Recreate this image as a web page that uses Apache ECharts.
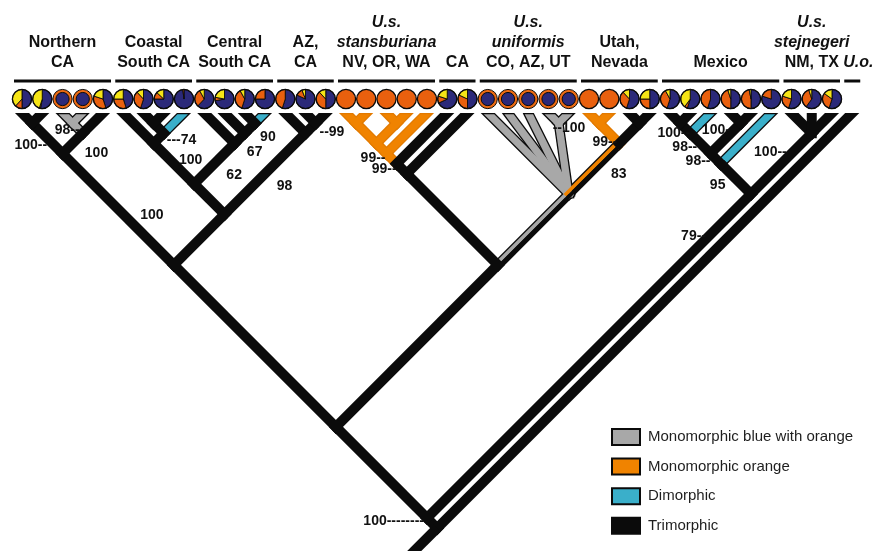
<!DOCTYPE html>
<html>
<head>
<meta charset="utf-8">
<script src="https://cdn.jsdelivr.net/npm/echarts@6/dist/echarts.min.js"></script>
<style>
  html, body { margin: 0; padding: 0; background: #fff; }
  #chart { width: 875px; height: 551px; }
</style>
</head>
<body>
<div id="chart"></div>
<script>
// ---------------------------------------------------------------------------
// Sampled populations, left to right; the array position is the tip number
// used on the x axis. Pie fractions of the three throat morphs.
const pieBlue   = [0.50, 0.53, 1, 1, 0.45, 0.45, 0.55, 0.75, 0.98, 0.62, 0.72, 0.55, 0.75, 0.55, 0.82, 0.50,
                   0, 0, 0, 0, 0, 0.68, 0.50, 1, 1, 1, 1, 1, 0, 0, 0.55, 0.50,
                   0.55, 0.55, 0.55, 0.50, 0.50, 0.80, 0.55, 0.60, 0.55];
const pieOrange = [0.12, 0.02, 0, 0, 0.35, 0.30, 0.33, 0.12, 0.02, 0.30, 0.06, 0.37, 0.25, 0.45, 0.12, 0.38,
                   1, 1, 1, 1, 1, 0.12, 0.32, 0, 0, 0, 0, 0, 1, 1, 0.33, 0.25,
                   0.37, 0.05, 0.45, 0.45, 0.47, 0.20, 0.25, 0.35, 0.30];
const pieYellow = [0.38, 0.45, 0, 0, 0.20, 0.25, 0.12, 0.13, 0, 0.08, 0.22, 0.08, 0, 0, 0.06, 0.12,
                   0, 0, 0, 0, 0, 0.20, 0.18, 0, 0, 0, 0, 0, 0, 0, 0.12, 0.25,
                   0.08, 0.40, 0, 0.05, 0.03, 0, 0.20, 0.05, 0.15];
// Populations fixed for blue throats bordered with orange
const ringed = [2, 3, 23, 24, 25, 26, 27];

// Cladogram in Newick form (tip numbers as above, 41 = U. ornatus outgroup).
// ':code' gives the reconstructed state of the branch below a node:
// g grey, o orange, t teal, k black; two letters = split branch.
const cladeNorthCA   = '((0,1),((2:g,3:g):g,4))';
const cladeCoastal   = '(5,((6,7),8:t))';
const cladeCentral   = '(9,(10,(11,12:t)))';
const cladeAZ        = '(13,(14,15))';
const cladeStansb    = '(((((16:o,17:o):o,(18:o,19:o):o):o,20:o):o,21),22)';
const cladeUniformis = '(23:g,24:g,25:g,(26:g,27:g):g,((28:o,29:o):o,(30,31)):ok)';
const cladeMexico    = '((((32,33),34:t),(35,36)),37:t)';
const cladeNMTX      = '(38,39,40)';
const treeNewick = '((((' + cladeNorthCA + ',((' + cladeCoastal + ',' + cladeCentral + '),' + cladeAZ + ')),(' +
  cladeStansb + ',' + cladeUniformis + ':gk)),(' + cladeMexico + ',' + cladeNMTX + ')),41)';

// Bootstrap support: node named by the tips it spans, and its value
const supportSpan  = ['0-1', '2-3', '0-4', '0-15', '6-8', '5-8', '5-12', '9-12', '11-12', '5-15', '13-15',
                      '16-20', '16-21', '26-27', '28-31', '23-31', '32-33', '32-34', '35-36', '32-36',
                      '32-37', '38-40', '32-40', '0-40'];
const supportValue = [100, 98, 100, 100, 74, 100, 62, 67, 90, 98, 99,
                      99, 99, 100, 99, 83, 100, 98, 100, 98,
                      95, 100, 79, 100];

// Clade labels and the tips they span
const groupFrom  = [0, 5, 9, 13, 16, 21, 23, 28, 32, 38, 41];
const groupTo    = [4, 8, 12, 15, 20, 22, 27, 31, 37, 40, 41];
const groupTaxon = ['', '', '', '', 'U.s.\nstansburiana', '', 'U.s.\nuniformis', '', '', 'U.s.\nstejnegeri', 'U.o.'];
const groupPlace = ['Northern\nCA', 'Coastal\nSouth CA', 'Central\nSouth CA', 'AZ,\nCA', 'NV, OR, WA', 'CA',
                    'CO, AZ, UT', 'Utah,\nNevada', 'Mexico', 'NM, TX', ''];

// Branch states shown in the key
const stateNames = ['Monomorphic blue with orange', 'Monomorphic orange', 'Dimorphic', 'Trimorphic'];
const stateCodes = ['g', 'o', 't', 'k'];

// ---------------------------------------------------------------------------
// Styling
const FONT = "'Liberation Sans', Arial, Helvetica, sans-serif";
const NAVY = '#2b2979', PIE_OR = '#e9600e', YEL = '#f6e516', RING_OR = '#ec6a12';
const INK = '#0b0b0b';
const STATE_COLOR = { g: '#a8a8a8', o: '#f08300', t: '#3aafca', k: INK };
const STATE_EDGE = { g: INK, o: '#e27a00', t: INK };
const LINE_W = 10;      // branch width, px
const EDGE = 1.3;       // outline around coloured branches, px
const PIE_R = 9.6;
const PIE_ROW = -0.69;  // pie row, in tip-spacing units above the tips
const groupTextShift = [0, 0, 0, 0, 0, 0, 0, 0, 0, 0, 6];

// Axis scaling: one tip spacing per x unit, same pixel size for depth units
const SPACING = 20.25, TIP_LEFT = 22, TIP_TOP = 113, WIDTH = 875, HEIGHT = 551;

// Supports: [dx, dy, anchor, dashes] relative to the node (r: text ends there, l: starts, c: centred)
const supportPlacement = {
  '0-1': [15, 22, 'r', 2], '2-3': [7, 7, 'r', 2], '0-4': [34, 0, 'c', 0], '0-15': [-22, -50, 'c', 0],
  '6-8': [3, 7, 'l', 3], '5-8': [37, 17, 'c', 0], '5-12': [40, -9, 'c', 0], '9-12': [20, 9, 'c', 0],
  '11-12': [13, 14, 'c', 0], '5-15': [60, -28, 'c', 0], '13-15': [14, -1, 'l', 2],
  '16-20': [-1, 5, 'r', 2], '16-21': [0, 6, 'r', 2], '26-27': [-6, 5, 'l', 2], '28-31': [-2, -1, 'r', 2],
  '23-31': [50, -20, 'c', 0], '32-33': [10, 10, 'r', 2], '32-34': [7, 14, 'r', 2], '35-36': [-11, 7, 'r', 1],
  '32-36': [0, 8, 'r', 2], '32-37': [-3, 22, 'c', 0], '38-40': [-25, 19, 'r', 2], '32-40': [-45, 42, 'r', 2],
  '0-40': [-3, 3, 'r', 8]
};

// ---------------------------------------------------------------------------
// Tree parsing and slanted-cladogram layout (45 degree branches)
function parseNewick(s) {
  let i = 0;
  function node() {
    let n;
    if (s[i] === '(') {
      i++;
      const kids = [node()];
      while (s[i] === ',') { i++; kids.push(node()); }
      i++;
      n = { kids };
    } else {
      let t = '';
      while (/[0-9]/.test(s[i])) t += s[i++];
      n = { leaf: +t };
    }
    if (s[i] === ':') {
      i++;
      let c = '';
      while (/[a-z]/.test(s[i])) c += s[i++];
      n.state = c;
    }
    return n;
  }
  return node();
}

function layout(n) {
  if (n.leaf != null) { n.x = n.leaf; n.y = 0; n.lo = n.hi = n.leaf; return; }
  n.kids.forEach(layout);
  const a = n.kids[0], b = n.kids[n.kids.length - 1];
  n.x = (a.x - a.y + b.x + b.y) / 2;
  n.y = (b.x + b.y - a.x + a.y) / 2;
  n.lo = a.lo; n.hi = b.hi;
}

const root = parseNewick(treeNewick);
layout(root);
const nodeBySpan = {};
const branches = [];
(function walk(n) {
  nodeBySpan[n.lo + '-' + n.hi] = n;
  if (n.kids) n.kids.forEach(k => { branches.push({ c: k, p: n }); walk(k); });
})(root);
// stem below the root, running off the bottom edge
branches.push({ c: root, p: { x: root.x - 3, y: root.y + 3 }, stem: true });

const branchData = branches.map(b => [b.c.x, b.c.y, b.p.x, b.p.y, b.c.leaf != null && !b.stem ? 1 : 0]);
const branchState = branches.map(b => (b.stem ? 'k' : (b.c.state || 'k')));

// ---------------------------------------------------------------------------
// Drawing helpers
function bandPts(c, p, half, cutY, ext, side) {
  const dx = p[0] - c[0], dy = p[1] - c[1], L = Math.hypot(dx, dy);
  const ux = dx / L, uy = dy / L;
  const nx = -uy * half, ny = ux * half;
  const pe = [p[0] + ux * ext, p[1] + uy * ext];
  const hi = side === -1 ? 0 : 1, lo = side === 1 ? 0 : -1;
  const at = (s, q) => [q[0] + nx * s, q[1] + ny * s];
  let a = at(hi, c), b = at(lo, c);
  if (cutY != null) {
    const cut = q => { const t = (cutY - q[1]) / uy; return [q[0] + ux * t, cutY]; };
    a = cut(a); b = cut(b);
  }
  return [a, at(hi, pe), at(lo, pe), b];
}

function renderBranch(params, api) {
  const c = api.coord([api.value(0), api.value(1)]);
  const p = api.coord([api.value(2), api.value(3)]);
  const tipY = api.value(4) ? api.coord([0, 0])[1] : null;
  const st = branchState[params.dataIndex];
  const half = LINE_W / 2;
  const poly = (pts, fill, z2) => ({ type: 'polygon', shape: { points: pts }, style: { fill }, z2 });
  if (st === 'k') return poly(bandPts(c, p, half, tipY, half, 0), INK, 3);
  const edge = st.length === 1 ? STATE_EDGE[st] : INK;
  const els = [poly(bandPts(c, p, half, tipY, half, 0), edge, 1)];
  const ih = half - EDGE, it = tipY == null ? null : tipY + EDGE;
  if (st.length === 1) {
    els.push(poly(bandPts(c, p, ih, it, ih, 0), STATE_COLOR[st], 2));
  } else {
    els.push(poly(bandPts(c, p, ih, it, ih, 1), STATE_COLOR[st[0]], st[0] === 'k' ? 2.5 : 2));
    els.push(poly(bandPts(c, p, ih, it, ih, -1), STATE_COLOR[st[1]], st[1] === 'k' ? 2.5 : 2));
  }
  return { type: 'group', children: els };
}

function renderPie(params, api) {
  const i = params.dataIndex;
  const [cx, cy] = api.coord([api.value(0), PIE_ROW]);
  if (ringed.includes(i)) {
    return { type: 'group', children: [
      { type: 'circle', shape: { cx, cy, r: PIE_R }, style: { fill: RING_OR, stroke: INK, lineWidth: 1 } },
      { type: 'circle', shape: { cx, cy, r: 6.6 }, style: { fill: NAVY, stroke: INK, lineWidth: 1 } }
    ] };
  }
  const parts = [[pieBlue[i], NAVY], [pieOrange[i], PIE_OR], [pieYellow[i], YEL]];
  const children = [];
  let a = -Math.PI / 2;
  parts.forEach(([f, col]) => {
    if (f <= 0) return;
    if (f >= 0.999) {
      children.push({ type: 'circle', shape: { cx, cy, r: PIE_R }, style: { fill: col } });
      return;
    }
    const b = a + f * 2 * Math.PI;
    children.push({ type: 'sector', shape: { cx, cy, r0: 0, r: PIE_R, startAngle: a, endAngle: b, clockwise: true },
      style: { fill: col, stroke: INK, lineWidth: 0.9 } });
    a = b;
  });
  children.push({ type: 'circle', shape: { cx, cy, r: PIE_R }, style: { fill: null, stroke: INK, lineWidth: 1.3 } });
  return { type: 'group', children };
}

function renderGroup(params, api) {
  const k = params.dataIndex;
  const x0 = api.coord([api.value(0), 0])[0], x1 = api.coord([api.value(1), 0])[0];
  const lines = [];
  if (groupTaxon[k]) groupTaxon[k].split('\n').forEach(t => lines.push('{i|' + t + '}'));
  if (groupPlace[k]) groupPlace[k].split('\n').forEach(t => lines.push('{n|' + t + '}'));
  const base = { fontSize: 16, fontWeight: 'bold', fontFamily: FONT, lineHeight: 20, fill: '#111' };
  return { type: 'group', children: [
    { type: 'rect', shape: { x: x0 - 8, y: 79.5, width: x1 - x0 + 16, height: 3 }, style: { fill: INK } },
    { type: 'text', style: Object.assign({
        text: lines.join('\n'), x: (x0 + x1) / 2 + groupTextShift[k], y: 73, align: 'center', verticalAlign: 'bottom',
        rich: { i: Object.assign({ fontStyle: 'italic' }, base), n: Object.assign({}, base) }
      }, base) }
  ] };
}

function renderSupport(params, api) {
  const k = params.dataIndex;
  const [px, py] = api.coord([api.value(0), api.value(1)]);
  const [dx, dy, anchor, dashes] = supportPlacement[supportSpan[k]];
  const v = String(supportValue[k]), d = '-'.repeat(dashes);
  const text = anchor === 'r' ? v + d : anchor === 'l' ? d + v : v;
  return { type: 'text', style: {
    text, x: px + dx, y: py + dy, align: anchor === 'r' ? 'right' : anchor === 'l' ? 'left' : 'center',
    verticalAlign: 'middle', fontSize: 14, fontWeight: 'bold', fontFamily: FONT, fill: '#111'
  } };
}

// ---------------------------------------------------------------------------
const pieData = pieBlue.map((_, i) => [i]);
const groupData = groupFrom.map((a, k) => [a, groupTo[k]]);
const supportData = supportSpan.map(s => [nodeBySpan[s].x, nodeBySpan[s].y]);

const chart = echarts.init(document.getElementById('chart'), null, { renderer: 'canvas' });
chart.setOption({
  animation: false,
  backgroundColor: '#fff',
  grid: { left: 0, right: 0, top: 0, bottom: 0, containLabel: false },
  xAxis: { type: 'value', min: -TIP_LEFT / SPACING, max: (WIDTH - TIP_LEFT) / SPACING, show: false },
  yAxis: { type: 'value', min: -TIP_TOP / SPACING, max: (HEIGHT - TIP_TOP) / SPACING, inverse: true, show: false },
  legend: {
    data: stateNames, orient: 'vertical', left: 611, top: 428, padding: 0,
    itemWidth: 28, itemHeight: 16, itemGap: 11.6, icon: 'rect', selectedMode: false,
    itemStyle: { borderColor: INK, borderWidth: 2, opacity: 1 },
    textStyle: { fontSize: 15, color: '#1e1e1e', fontFamily: FONT, padding: [0, 0, 0, 3] }
  },
  series: [
    { type: 'custom', renderItem: renderBranch, data: branchData, z: 2, silent: true },
    { type: 'custom', renderItem: renderPie, data: pieData, z: 3, silent: true },
    { type: 'custom', renderItem: renderGroup, data: groupData, z: 3, silent: true },
    { type: 'custom', renderItem: renderSupport, data: supportData, z: 4, silent: true }
  ].concat(stateNames.map((name, k) => ({
    type: 'scatter', name, data: [],
    itemStyle: { color: STATE_COLOR[stateCodes[k]], borderColor: INK, borderWidth: 2, opacity: 1 }
  })))
});
</script>
</body>
</html>
